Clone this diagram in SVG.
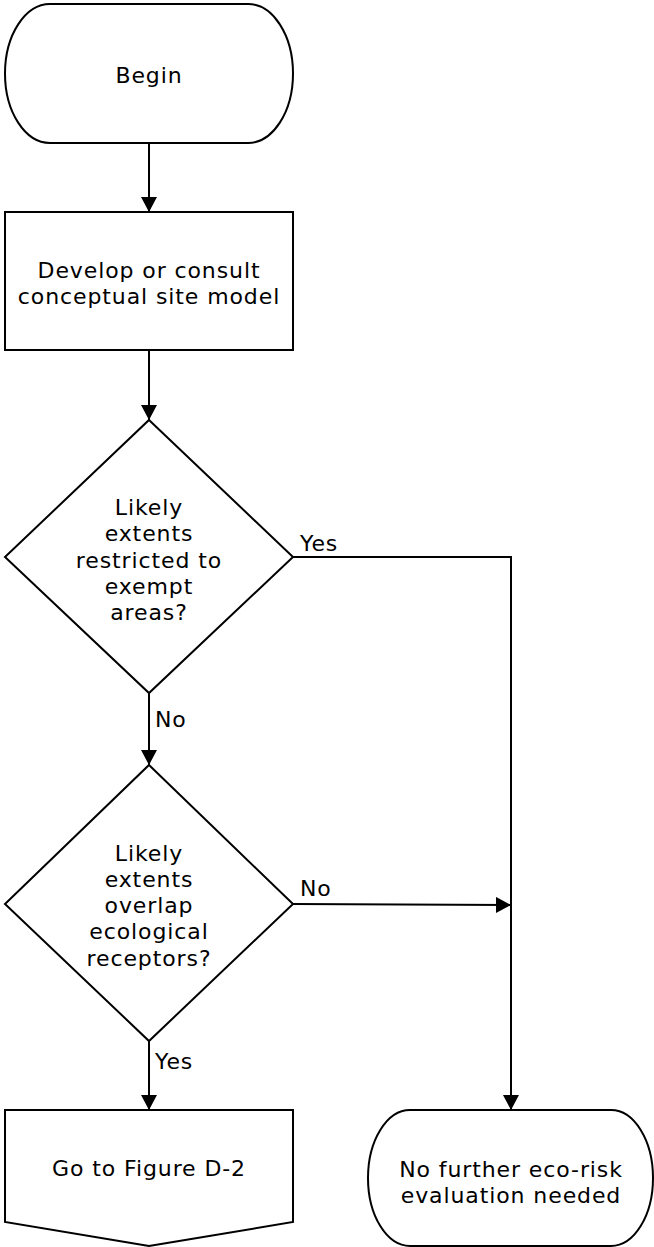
<svg xmlns="http://www.w3.org/2000/svg" width="654" height="1247" viewBox="0 0 654 1247">
<style>
.s{fill:#fff;stroke:#000;stroke-width:2}
.t{font-family:"DejaVu Sans",Verdana,sans-serif;font-size:22px;letter-spacing:0.9px;fill:#000;text-anchor:middle}
.l{font-family:"DejaVu Sans",Verdana,sans-serif;font-size:22px;letter-spacing:0.9px;fill:#000}
.c{fill:none;stroke:#000;stroke-width:2}
</style>
<defs>
<marker id="a" markerUnits="userSpaceOnUse" markerWidth="16" markerHeight="16" refX="15" refY="8" orient="auto">
<path d="M0,0 L15,8 L0,16 Z" fill="#000"/>
</marker>
</defs>
<rect width="654" height="1247" fill="#fff"/>
<g id="connectors">
<line class="c" x1="149" y1="143" x2="149" y2="212" marker-end="url(#a)"/>
<line class="c" x1="149" y1="350" x2="149" y2="420" marker-end="url(#a)"/>
<line class="c" x1="149" y1="693" x2="149" y2="765" marker-end="url(#a)"/>
<line class="c" x1="149" y1="1041" x2="149" y2="1110" marker-end="url(#a)"/>
<polyline class="c" points="293,557 511,557 511,1110" marker-end="url(#a)"/>
<line class="c" x1="293" y1="904" x2="511" y2="905" marker-end="url(#a)"/>
<text class="l" x="300" y="551">Yes</text>
<text class="l" x="155" y="727">No</text>
<text class="l" x="300" y="896">No</text>
<text class="l" x="155" y="1069">Yes</text>
</g>
<g id="begin">
<rect class="s" x="5" y="4" width="288" height="139" rx="45" ry="69.5"/>
<text class="t" x="149" y="83">Begin</text>
</g>
<g id="develop">
<rect class="s" x="5" y="212" width="288" height="138"/>
<text class="t" x="149" y="278">Develop or consult</text>
<text class="t" x="149" y="304">conceptual site model</text>
</g>
<g id="decision1">
<polygon class="s" points="149,420 293,557 149,693 5,557"/>
<text class="t" x="149" y="515">Likely</text>
<text class="t" x="149" y="541">extents</text>
<text class="t" x="149" y="568">restricted to</text>
<text class="t" x="149" y="594">exempt</text>
<text class="t" x="149" y="620">areas?</text>
</g>
<g id="decision2">
<polygon class="s" points="149,765 293,904 149,1041 5,904"/>
<text class="t" x="149" y="861">Likely</text>
<text class="t" x="149" y="887">extents</text>
<text class="t" x="149" y="913">overlap</text>
<text class="t" x="149" y="939">ecological</text>
<text class="t" x="149" y="966">receptors?</text>
</g>
<g id="goto">
<polygon class="s" points="5,1110 293,1110 293,1222 149,1246 5,1222"/>
<text class="t" x="149" y="1176">Go to Figure D-2</text>
</g>
<g id="nofurther">
<rect class="s" x="368" y="1110" width="285" height="136" rx="42" ry="68"/>
<text class="t" x="511" y="1177">No further eco-risk</text>
<text class="t" x="511" y="1203">evaluation needed</text>
</g>
</svg>
